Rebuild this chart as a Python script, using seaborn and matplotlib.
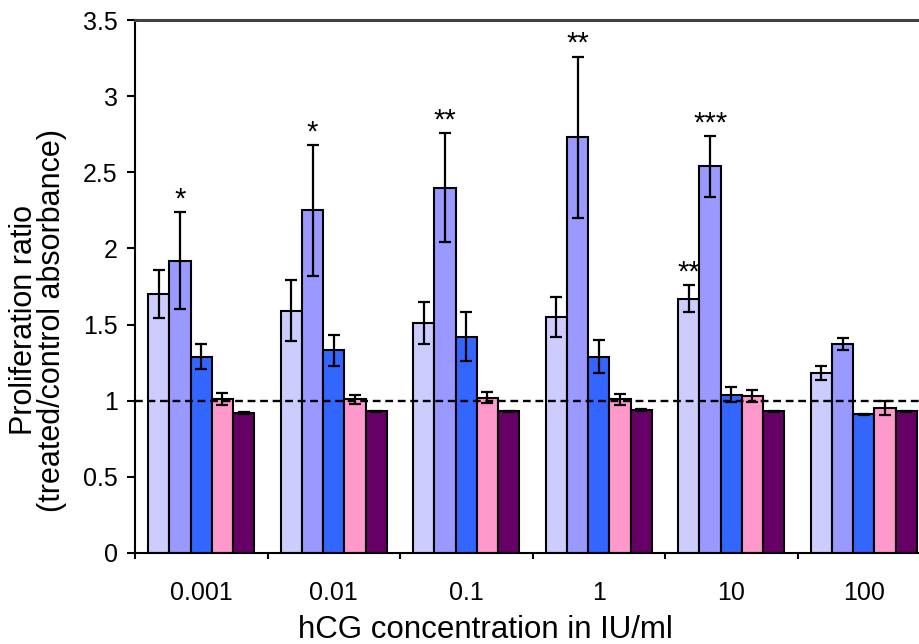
import numpy as np
import pandas as pd
import matplotlib
matplotlib.use("Agg")
import matplotlib.pyplot as plt
import seaborn as sns

# hCG concentrations (IU/ml) on the x axis
concentrations = ["0.001", "0.01", "0.1", "1", "10", "100"]
series = ["Series 1", "Series 2", "Series 3", "Series 4", "Series 5"]
colors = ["#CCCCFF", "#9999FF", "#3366FF", "#FF99CC", "#660066"]

# mean proliferation ratio per series
s1 = [1.70, 1.59, 1.51, 1.55, 1.67, 1.18]
s2 = [1.92, 2.25, 2.40, 2.73, 2.54, 1.37]
s3 = [1.29, 1.33, 1.42, 1.29, 1.04, 0.91]
s4 = [1.01, 1.01, 1.02, 1.01, 1.03, 0.95]
s5 = [0.92, 0.93, 0.93, 0.94, 0.93, 0.93]

# error bar half-lengths
e1 = [0.16, 0.20, 0.14, 0.13, 0.09, 0.045]
e2 = [0.32, 0.43, 0.36, 0.53, 0.20, 0.04]
e3 = [0.08, 0.10, 0.16, 0.11, 0.05, 0.005]
e4 = [0.04, 0.03, 0.035, 0.035, 0.04, 0.045]
e5 = [0.005, 0.005, 0.005, 0.005, 0.005, 0.005]

# significance markers: (series index, group index, label)
star_series = [1, 1, 1, 1, 1, 0]
star_groups = [0, 1, 2, 3, 4, 4]
star_labels = ["*", "*", "**", "**", "***", "**"]

means = [s1, s2, s3, s4, s5]
errs = [e1, e2, e3, e4, e5]

rows = []
for name, vals, ev in zip(series, means, errs):
    for c, v, e in zip(concentrations, vals, ev):
        rows.append({"conc": c, "series": name, "ratio": v, "err": e})
df = pd.DataFrame(rows)

sns.set_style("ticks")
plt.rcParams["font.family"] = ["Liberation Sans", "DejaVu Sans"]
plt.rcParams["text.color"] = "black"
plt.rcParams["xtick.color"] = "black"
plt.rcParams["ytick.color"] = "black"
plt.rcParams["xtick.labelcolor"] = "black"
plt.rcParams["ytick.labelcolor"] = "black"

fig = plt.figure(figsize=(9.19, 6.44), dpi=100)
ax = fig.add_axes([135 / 919, 91 / 644, 795 / 919, 533 / 644])

sns.barplot(data=df, x="conc", y="ratio", hue="series", order=concentrations,
            hue_order=series, palette=colors, saturation=1, edgecolor="black",
            linewidth=1.5, errorbar=None, legend=False, ax=ax)
bar_conts = list(ax.containers)

# error bars and stars on top of the bars
for i, cont in enumerate(bar_conts):
    xs = [b.get_x() + b.get_width() / 2 for b in cont]
    ax.errorbar(xs, means[i], yerr=errs[i], fmt="none", ecolor="black",
                elinewidth=1.6, capsize=4.6, capthick=1.6, zorder=5)

for si, gi, lab in zip(star_series, star_groups, star_labels):
    b = bar_conts[si][gi]
    x = b.get_x() + b.get_width() / 2
    y = means[si][gi] + errs[si][gi] + 0.03
    ax.text(x, y, lab, ha="center", va="baseline", fontsize=21, color="black")

ax.axhline(1, color="black", lw=1.7, ls=(0, (3.3, 2.0)), zorder=6)

ax.set_xlim(-0.5, 5.5)
ax.set_ylim(0, 3.5)
yt = np.arange(0, 3.51, 0.5)
ax.set_yticks(yt)
ax.set_yticklabels([f"{v:g}" for v in yt])
ax.set_xticks(np.arange(len(concentrations)))
ax.set_xticklabels(concentrations)
ax.set_xticks(np.arange(-0.5, len(concentrations), 1), minor=True)
ax.tick_params(axis="x", which="major", length=0, pad=20, labelsize=18)
ax.tick_params(axis="x", which="minor", length=4, width=1.5, direction="out")
ax.tick_params(axis="y", length=5.5, width=1.5, pad=7, labelsize=18)
ax.set_xlabel("")
ax.set_ylabel("")

for side in ["left", "bottom"]:
    ax.spines[side].set_color("black")
    ax.spines[side].set_linewidth(1.5)
ax.spines["top"].set_visible(True)
ax.spines["top"].set_color("#404040")
ax.spines["top"].set_linewidth(2.2)
ax.spines["right"].set_visible(False)

fig.text(38 / 919, 1 - 320 / 644, "Proliferation ratio\n(treated/control absorbance)",
         rotation=90, ha="center", va="center", multialignment="center",
         fontsize=22, linespacing=0.95)
fig.text(485 / 919, 6 / 644, "hCG concentration in IU/ml", ha="center",
         va="baseline", fontsize=22.5)

fig.savefig("out.png", dpi=100)
